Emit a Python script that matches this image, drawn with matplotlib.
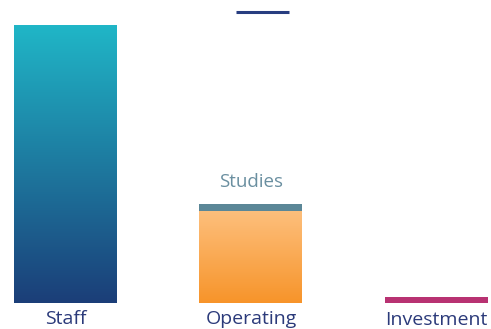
import matplotlib.pyplot as plt
import numpy as np
from matplotlib.colors import LinearSegmentedColormap

# values (pixel-height units above the baseline)
categories = ["Staff", "Operating", "Investment"]
base_values = [278, 92, 6]
studies_value = 7
marker_level = 291.5

STAFF_TOP, STAFF_BOTTOM = "#20b6c7", "#1b3e78"
OPER_TOP, OPER_BOTTOM = "#fdbf7c", "#f7942a"
STUDIES_COLOR = "#5b8797"
INVEST_COLOR = "#b83272"
LABEL_COLOR = "#2b3a7a"
STUDIES_LABEL = "#6a8fa0"

plt.rcParams["font.family"] = ["Open Sans", "DejaVu Sans"]

fig = plt.figure(figsize=(4.91, 3.29), dpi=100)
ax = fig.add_axes([0, 0, 1, 1])
ax.set_xlim(-0.353, 2.294)
ax.set_ylim(-26, 303)
ax.axis("off")

width = 0.555


def gradient_bar(x, h, top, bottom):
    cmap = LinearSegmentedColormap.from_list("g", [bottom, top])
    grad = np.linspace(0, 1, 256).reshape(-1, 1)
    ax.imshow(grad, cmap=cmap, origin="lower", aspect="auto",
              extent=[x - width / 2, x + width / 2, 0, h], zorder=2)


gradient_bar(0, base_values[0], STAFF_TOP, STAFF_BOTTOM)
gradient_bar(1, base_values[1], OPER_TOP, OPER_BOTTOM)
ax.bar(1, studies_value, width=width, bottom=base_values[1],
       color=STUDIES_COLOR, zorder=3)
ax.bar(2, base_values[2], width=width, color=INVEST_COLOR, zorder=3)

# short marker line at top
ax.plot([0.919, 1.205], [marker_level, marker_level], color="#273d80",
        lw=2.2, solid_capstyle="butt")

label_y = [-16, -16, -17]
for i, (name, ly) in enumerate(zip(categories, label_y)):
    ax.text(i, ly, name, ha="center", va="center", fontsize=14,
            color=LABEL_COLOR)

ax.text(1, base_values[1] + studies_value + 22, "Studies", ha="center",
        va="center", fontsize=13.5, color=STUDIES_LABEL)

fig.savefig("out.png", dpi=100)
